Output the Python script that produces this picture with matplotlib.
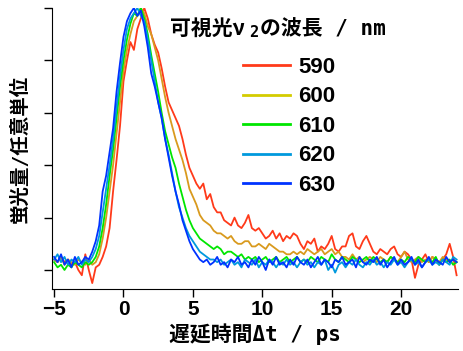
import numpy as np
import matplotlib
matplotlib.use("Agg")
import matplotlib.pyplot as plt
from matplotlib.lines import Line2D

# delay time grid (ps), 0.25 ps steps
delay = np.arange(-5.0, 24.01, 0.25)

# fluorescence traces (arb. units), one row per ps
trace_590 = [
    0.04, 0.03, 0.05, 0.03,  0.04, 0.02, 0.03, 0.00,  -0.02, 0.06, 0.00, -0.05,
    0.01, 0.02, 0.05, 0.09,  0.16, 0.30, 0.42, 0.55,  0.72, 0.80, 0.87, 0.84,
    0.92, 0.96, 1.00, 0.96,  0.90, 0.86, 0.83, 0.77,  0.70, 0.64, 0.61, 0.58,
    0.55, 0.50, 0.44, 0.39,  0.36, 0.33, 0.31, 0.33,  0.27, 0.29, 0.24, 0.22,
    0.22, 0.19, 0.18, 0.17,  0.20, 0.17, 0.16, 0.18,  0.21, 0.16, 0.15, 0.16,
    0.14, 0.12, 0.13, 0.15,  0.12, 0.14, 0.11, 0.13,  0.12, 0.14, 0.13, 0.10,
    0.08, 0.11, 0.10, 0.12,  0.07, 0.09, 0.08, 0.10,  0.13, 0.08, 0.07, 0.09,
    0.09, 0.13, 0.14, 0.09,  0.08, 0.11, 0.13, 0.10,  0.07, 0.06, 0.08, 0.07,
    0.06, 0.08, 0.09, 0.06,  0.05, 0.07, 0.06, 0.04,  -0.03, 0.02, 0.04, 0.06,
    0.03, 0.05, 0.04, 0.02,  0.04, 0.06, 0.10, 0.05,  -0.02,
]
trace_600 = [
    0.04, 0.03, 0.05, 0.02,  0.04, 0.03, 0.02, 0.04,  0.03, 0.02, 0.04, 0.02,
    0.03, 0.06, 0.12, 0.20,  0.30, 0.40, 0.52, 0.64,  0.76, 0.84, 0.90, 0.95,
    0.97, 1.00, 0.98, 0.93,  0.90, 0.85, 0.80, 0.73,  0.66, 0.60, 0.55, 0.50,
    0.46, 0.42, 0.37, 0.31,  0.28, 0.25, 0.21, 0.19,  0.18, 0.17, 0.15, 0.14,
    0.14, 0.13, 0.12, 0.13,  0.11, 0.10, 0.10, 0.11,  0.11, 0.09, 0.09, 0.10,
    0.09, 0.08, 0.10, 0.09,  0.08, 0.07, 0.07, 0.06,  0.06, 0.07, 0.06, 0.07,
    0.06, 0.08, 0.07, 0.06,  0.07, 0.08, 0.06, 0.07,  0.08, 0.06, 0.07, 0.05,
    0.05, 0.04, 0.06, 0.04,  0.05, 0.03, 0.04, 0.05,  0.04, 0.03, 0.05, 0.04,
    0.03, 0.05, 0.04, 0.03,  0.05, 0.07, 0.04, 0.03,  0.04, 0.05, 0.03, 0.04,
    0.03, 0.05, 0.04, 0.03,  0.05, 0.04, 0.03, 0.04,  0.03,
]
trace_610 = [
    0.03, 0.01, 0.02, 0.00,  0.02, 0.01, 0.03, 0.02,  0.01, 0.03, 0.02, 0.03,
    0.05, 0.09, 0.16, 0.25,  0.36, 0.46, 0.58, 0.70,  0.80, 0.88, 0.94, 0.98,
    0.97, 1.00, 0.96, 0.90,  0.82, 0.75, 0.68, 0.60,  0.53, 0.48, 0.43, 0.39,
    0.33, 0.28, 0.23, 0.19,  0.16, 0.14, 0.12, 0.11,  0.10, 0.09, 0.08, 0.09,
    0.08, 0.06, 0.07, 0.07,  0.06, 0.05, 0.06, 0.04,  0.05, 0.04, 0.05, 0.03,
    0.04, 0.05, 0.03, 0.04,  0.05, 0.03, 0.04, 0.05,  0.03, 0.04, 0.05, 0.03,
    0.04, 0.03, 0.05, 0.04,  0.03, 0.05, 0.04, 0.03,  0.06, 0.04, 0.03, 0.05,
    0.04, 0.03, 0.05, 0.04,  0.03, 0.04, 0.05, 0.03,  0.05, 0.04, 0.03, 0.04,
    0.03, 0.05, 0.04, 0.03,  0.04, 0.03, 0.05, 0.04,  0.03, 0.05, 0.04, 0.03,
    0.04, 0.03, 0.05, 0.02,  0.04, 0.03, 0.04, 0.02,  0.03,
]
trace_620 = [
    0.04, 0.06, 0.03, 0.05,  0.02, 0.04, 0.03, 0.05,  0.02, 0.04, 0.03, 0.05,
    0.08, 0.13, 0.22, 0.31,  0.40, 0.50, 0.62, 0.74,  0.84, 0.92, 0.96, 0.98,
    1.00, 0.97, 0.95, 0.88,  0.80, 0.72, 0.64, 0.58,  0.50, 0.44, 0.37, 0.30,
    0.24, 0.20, 0.16, 0.13,  0.11, 0.09, 0.07, 0.06,  0.05, 0.04, 0.04, 0.03,
    0.04, 0.02, 0.03, 0.04,  0.02, 0.03, 0.01, 0.04,  0.03, 0.02, 0.04, 0.01,
    0.03, 0.02, 0.04, 0.03,  0.01, 0.03, 0.02, 0.04,  0.02, 0.03, 0.01, 0.03,
    0.04, 0.02, 0.03, 0.01,  0.03, 0.02, 0.04, 0.00,  0.02, -0.01, 0.02, 0.03,
    0.01, 0.03, 0.02, 0.04,  0.02, 0.01, 0.03, 0.02,  0.04, 0.02, 0.03, 0.01,
    0.03, 0.02, 0.04, 0.02,  0.03, 0.01, 0.03, 0.04,  0.02, 0.03, 0.01, 0.03,
    0.04, 0.02, 0.03, 0.02,  0.04, 0.03, 0.02, 0.05,  0.04,
]
trace_630 = [
    0.05, 0.03, 0.06, 0.02,  0.04, 0.01, 0.05, 0.02,  0.03, 0.05, 0.04, 0.07,
    0.11, 0.17, 0.30, 0.36,  0.45, 0.54, 0.68, 0.79,  0.89, 0.95, 0.98, 1.00,
    0.97, 0.99, 0.93, 0.85,  0.75, 0.70, 0.64, 0.58,  0.50, 0.43, 0.36, 0.30,
    0.25, 0.19, 0.15, 0.11,  0.08, 0.06, 0.04, 0.03,  0.04, 0.02, 0.03, 0.05,
    0.02, 0.03, 0.01, 0.04,  0.03, 0.05, 0.02, 0.03,  0.01, 0.04, 0.02, 0.05,
    0.03, 0.00, 0.04, 0.02,  0.05, 0.02, 0.03, 0.01,  0.04, 0.02, 0.05, 0.03,
    0.02, 0.04, 0.01, 0.03,  0.05, 0.02, 0.04, 0.03,  0.01, 0.04, 0.03, 0.05,
    0.02, 0.03, 0.04, 0.01,  0.05, 0.03, 0.02, 0.04,  0.03, 0.05, 0.02, 0.04,
    0.01, 0.03, 0.05, 0.02,  0.04, 0.02, 0.03, 0.05,  0.02, 0.04, 0.01, 0.03,
    0.05, 0.02, 0.04, 0.03,  0.02, 0.05, 0.03, 0.04,  0.03,
]

labels = ["590", "600", "610", "620", "630"]
traces = [trace_590, trace_600, trace_610, trace_620, trace_630]
line_colors = ["#FF3A1A", "#D99A1E", "#00E600", "#0099DD", "#0033FF"]
legend_colors = ["#FF3A1A", "#D4CC00", "#00E600", "#0099DD", "#0033FF"]

# monospaced latin + CJK fallback, close to the gothic look of the original
jp = ["DejaVu Sans Mono", "Noto Sans CJK JP"]
num = "Liberation Sans"

fig = plt.figure(figsize=(4.63, 3.51), dpi=100)
ax = fig.add_axes([52 / 463, 1 - 289 / 351, 406 / 463, 281 / 351])

for y, c in zip(traces, line_colors):
    ax.plot(delay, y, color=c, lw=1.3)

ax.set_xlim(-5.15, 24.1)
ax.set_ylim(-0.0725, 1.0)
ax.set_xticks([-5, 0, 5, 10, 15, 20])
ax.set_yticks([0, 0.2, 0.4, 0.6, 0.8, 1.0])
ax.set_yticklabels([])
ax.spines["top"].set_visible(False)
ax.spines["right"].set_visible(False)
ax.tick_params(direction="out", length=6, width=1, pad=2)
for lab in ax.get_xticklabels():
    lab.set_fontfamily(num)
    lab.set_fontweight("bold")
    lab.set_fontsize(15)

ax.set_xlabel("遅延時間Δt / ps", family=jp, fontweight="bold", fontsize=15, labelpad=3)
ax.set_ylabel("蛍光量/任意単位", family=jp, fontweight="bold", fontsize=14, labelpad=8)

# legend title: 可視光ν2の波長 / nm with a subscript 2
t1 = fig.text(170 / 463, 1 - 35 / 351, "可視光ν", family=["Noto Sans CJK JP"],
              fontweight="bold", fontsize=15, va="baseline")
t2 = ax.annotate("2", xy=(1, 0), xycoords=t1, xytext=(3, -1), textcoords="offset points",
                 family=jp, fontweight="bold", fontsize=11, va="bottom", ha="left",
                 annotation_clip=False)
t3 = ax.annotate("の波長 / nm", xy=(1, 0), xycoords=t1, xytext=(11, 0),
                 textcoords="offset points", family=jp, fontweight="bold", fontsize=15,
                 va="bottom", ha="left", annotation_clip=False)

handles = [Line2D([], [], color=c, lw=2) for c in legend_colors]
ax.legend(handles, labels, loc="upper left", bbox_to_anchor=(243 / 463, 1 - 57 / 351),
          bbox_transform=fig.transFigure, frameon=False, borderpad=0, borderaxespad=0,
          handlelength=2.1, handletextpad=0.4, labelspacing=0.38,
          prop={"family": num, "weight": "bold", "size": 16})

fig.savefig("out.png", dpi=100)
